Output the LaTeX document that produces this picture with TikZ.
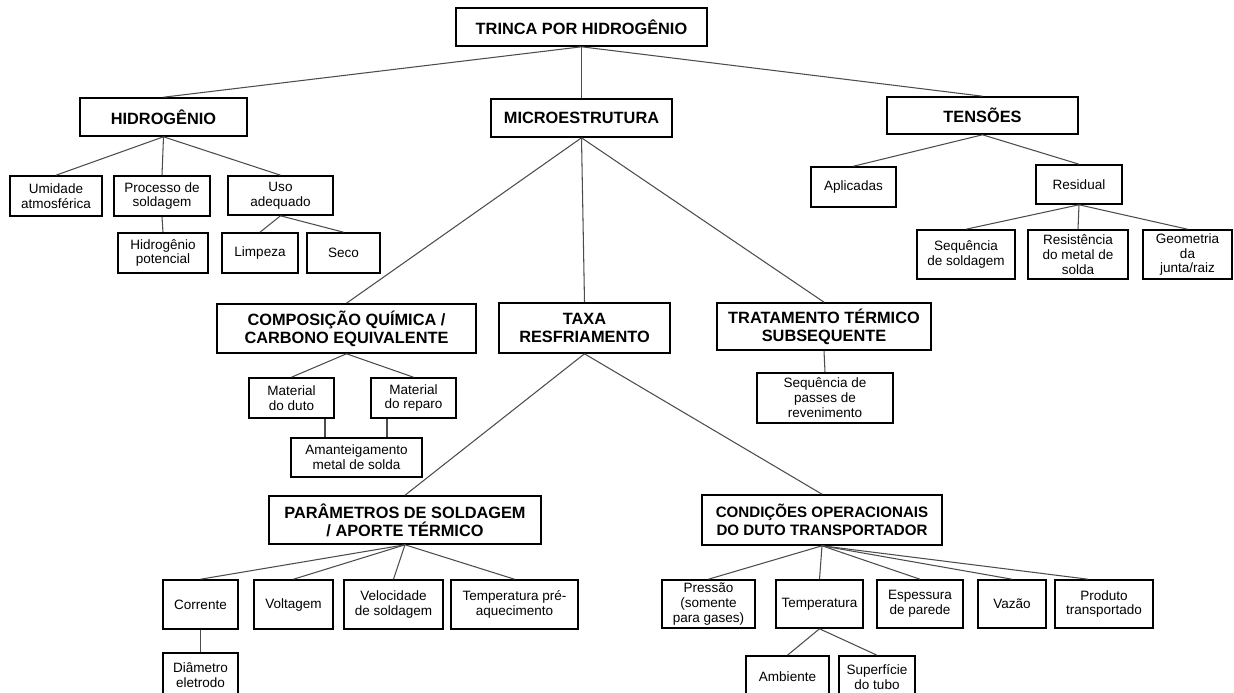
\documentclass[tikz,border=0pt]{standalone}
\usepackage{fontspec}
\setmainfont{Liberation Sans}
\usepackage{tikz}
\usetikzlibrary{calc}

\begin{document}
\begin{tikzpicture}[x=0.02cm, y=-0.02cm,
    sz/.style 2 args={minimum width=#1*0.02cm, minimum height=#2*0.02cm},
    hdr/.style={draw=black, line width=0.9pt, inner sep=1pt, align=center,
      font=\fontsize{9.3}{10.2}\selectfont\bfseries},
    leaf/.style={draw=black, line width=0.9pt, inner sep=1pt, align=center,
      font=\fontsize{7.7}{8.5}\selectfont},
    link/.style={draw=black!70, line width=0.6pt}]
        \useasboundingbox (0,0) rectangle (1234,693);
        % Root and first level
        \node[hdr, sz={251}{38}] (trinca) at (581.5,27) {TRINCA POR HIDROGÊNIO};
        \node[hdr, sz={167}{38}] (hidro) at (163.5,117) {HIDROGÊNIO};
        \node[hdr, sz={181}{38}] (micro) at (581.5,118) {MICROESTRUTURA};
        \node[hdr, sz={191}{37}] (tens) at (982.5,115.5) {TENSÕES};
        % Hidrogenio branch
        \node[leaf, sz={92}{40}] (umid) at (56,196) {Umidade\\atmosférica};
        \node[leaf, sz={96}{40}] (proc) at (162,196) {Processo de\\soldagem};
        \node[leaf, sz={105}{39}] (uso) at (280.5,195.5) {Uso\\adequado};
        \node[leaf, sz={90}{40}] (hpot) at (163,253) {Hidrogênio\\potencial};
        \node[leaf, sz={76}{40}] (limp) at (260,253) {Limpeza};
        \node[leaf, sz={73}{40}] (seco) at (343.5,253) {Seco};
        % Tensoes branch
        \node[leaf, sz={85}{40}] (aplic) at (853.5,187) {Aplicadas};
        \node[leaf, sz={86}{39}] (resid) at (1079,184.5) {Residual};
        \node[leaf, sz={98}{49}] (seqsold) at (966,254.5) {Sequência\\de soldagem};
        \node[leaf, sz={100}{49}] (resist) at (1078,254.5) {Resistência\\do metal de\\solda};
        \node[leaf, sz={89}{49}] (geom) at (1187.5,254.5) {Geometria\\da\\junta/raiz};
        % Microestrutura branch
        \node[hdr, sz={259}{49}] (comp) at (346.5,328.5) {COMPOSIÇÃO QUÍMICA /\\CARBONO EQUIVALENTE};
        \node[hdr, sz={171}{50}] (taxa) at (584.5,328) {TAXA\\RESFRIAMENTO};
        \node[hdr, sz={214}{47}] (trat) at (824,326.5) {TRATAMENTO TÉRMICO\\SUBSEQUENTE};
        \node[leaf, sz={85}{40}] (mduto) at (291.5,398) {Material\\do duto};
        \node[leaf, sz={85}{40}] (mrep) at (413.5,398) {Material\\do reparo};
        \node[leaf, sz={131}{39}] (amant) at (356.5,457.5) {Amanteigamento\\metal de solda};
        \node[leaf, sz={136}{50}] (seqpass) at (825,398) {Sequência de\\passes de\\revenimento};
        % Taxa de resfriamento branch
        \node[hdr, sz={272}{48}] (param) at (405,520) {PARÂMETROS DE SOLDAGEM\\/ APORTE TÉRMICO};
        \node[hdr, sz={240}{50}, font=\fontsize{8.6}{10.2}\selectfont\bfseries] (cond) at (822,520) {CONDIÇÕES OPERACIONAIS\\DO DUTO TRANSPORTADOR};
        \node[leaf, sz={75}{49}] (corr) at (200.5,604.5) {Corrente};
        \node[leaf, sz={79}{49}] (volt) at (293.5,604.5) {Voltagem};
        \node[leaf, sz={99}{49}] (veloc) at (393.5,604.5) {Velocidade\\de soldagem};
        \node[leaf, sz={127}{49}] (tpre) at (514.5,604.5) {Temperatura pré-\\aquecimento};
        \node[leaf, sz={75}{44}] (diam) at (200.5,675) {Diâmetro\\eletrodo};
        \node[leaf, sz={93}{48}] (press) at (708.5,604) {Pressão\\(somente\\para gases)};
        \node[leaf, sz={87}{48}] (temp) at (819.5,604) {Temperatura};
        \node[leaf, sz={86}{48}] (esp) at (920,604) {Espessura\\de parede};
        \node[leaf, sz={68}{48}] (vaz) at (1012,604) {Vazão};
        \node[leaf, sz={98}{48}] (prod) at (1104,604) {Produto\\transportado};
        \node[leaf, sz={83}{42}] (amb) at (787.5,677) {Ambiente};
        \node[leaf, sz={76}{42}] (sup) at (877,677) {Superfície\\do tubo};
        % Connectors
        \draw[link] (trinca.south) -- (hidro.north);
        \draw[link] (trinca.south) -- (micro.north);
        \draw[link] (trinca.south) -- (tens.north);
        \foreach \c in {umid,proc,uso} \draw[link] (hidro.south) -- (\c.north);
        \draw[link] (proc.south) -- (hpot.north);
        \foreach \c in {limp,seco} \draw[link] (uso.south) -- (\c.north);
        \foreach \c in {aplic,resid} \draw[link] (tens.south) -- (\c.north);
        \foreach \c in {seqsold,resist,geom} \draw[link] (resid.south) -- (\c.north);
        \foreach \c in {comp,taxa,trat} \draw[link] (micro.south) -- (\c.north);
        \foreach \c in {mduto,mrep} \draw[link] (comp.south) -- (\c.north);
        \coordinate (dduto) at ($(mduto.south)+(33.5,0)$);
        \coordinate (drep) at ($(mrep.south)+(-26.5,0)$);
        \draw[link] (dduto) -- (dduto |- amant.north);
        \draw[link] (drep) -- (drep |- amant.north);
        \draw[link] (trat.south) -- (seqpass.north);
        \foreach \c in {param,cond} \draw[link] (taxa.south) -- (\c.north);
        \foreach \c in {corr,volt,veloc,tpre} \draw[link] (param.south) -- (\c.north);
        \draw[link] (corr.south) -- (diam.north);
        \foreach \c in {press,temp,esp,vaz} \draw[link] (cond.south) -- (\c.north);
        \draw[link] (cond.south) -- ($(prod.north)+(-16,0)$);
        \foreach \c in {amb,sup} \draw[link] (temp.south) -- (\c.north);
\end{tikzpicture}
\end{document}
